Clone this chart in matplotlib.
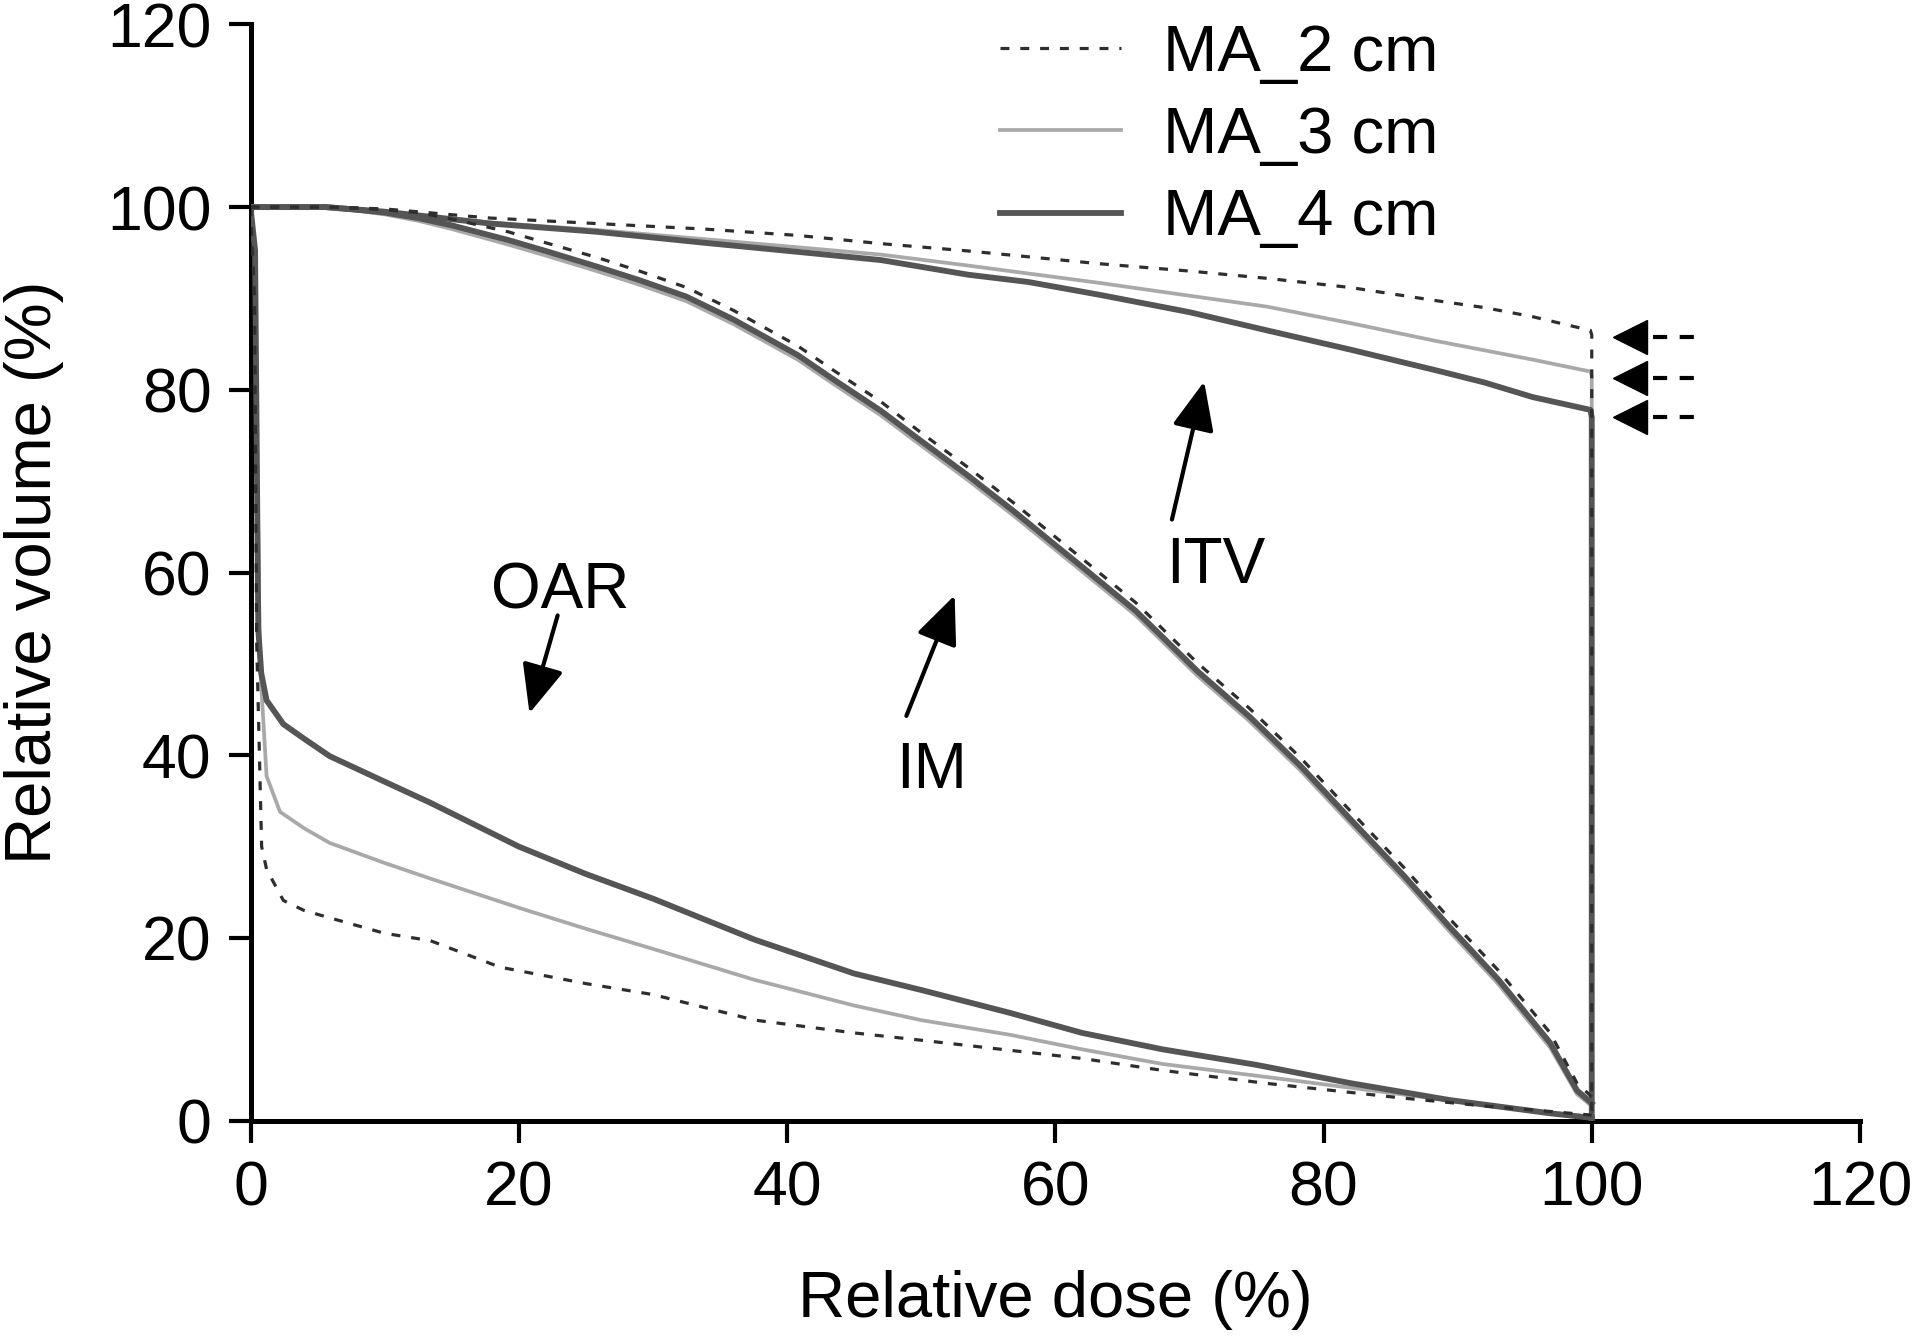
import matplotlib
matplotlib.use("Agg")
import matplotlib.pyplot as plt
from matplotlib.patches import ArrowStyle

plt.rcParams['font.family'] = ['Liberation Sans', 'DejaVu Sans']

# ---------------- data ----------------
series_labels = ["MA_2 cm", "MA_3 cm", "MA_4 cm"]

# ITV curves
itv_x_ma2 = [0, 5.6, 10, 17.9, 25.8, 33.8, 40.8, 47, 53.5, 63.3, 70, 75.8, 82, 88.2, 92, 95.6, 99.9, 100, 100]
itv_y_ma2 = [100, 100, 99.8, 98.8, 98.2, 97.6, 96.9, 96.0, 95.2, 93.8, 93.0, 92.2, 91.2, 89.8, 89.0, 88.0, 86.5, 86.0, 0]
itv_x_ma3 = [0, 5.6, 10, 17.9, 25.8, 33.8, 40.8, 47, 53.5, 63.3, 70, 75.8, 82, 88.2, 95.6, 99.9, 100, 100]
itv_y_ma3 = [100, 100, 99.5, 98.3, 97.5, 96.5, 95.6, 94.8, 93.6, 91.7, 90.3, 89.1, 87.3, 85.4, 83.3, 82.0, 81.5, 0]
itv_x_ma4 = [0, 5.6, 10, 17.9, 25.8, 33.8, 40.8, 47, 53.5, 58, 63.3, 70, 75.8, 82, 88.2, 92, 95.6, 99.9, 100, 100]
itv_y_ma4 = [100, 100, 99.5, 98.2, 97.3, 96.1, 95.1, 94.2, 92.6, 91.8, 90.4, 88.5, 86.5, 84.4, 82.2, 80.8, 79.2, 77.8, 77.0, 0]

# IM curves
im_x = [0, 3, 5.6, 8, 10, 12.5, 15, 19.2, 22, 25.8, 29, 32.5, 36, 40.8, 43.5, 47, 50, 53.5, 57, 60,
        62.1, 66, 70.6, 74.5, 78.3, 82, 86, 89.4, 93, 96.9, 98.9, 100]
im_y_ma2 = [100, 100, 100, 99.9, 99.7, 99.4, 98.7, 97.3, 96.1, 94.5, 93.0, 91.2, 88.7, 84.8, 82.1, 78.7, 75.3,
            71.5, 67.5, 63.9, 61.4, 56.7, 50.1, 45.1, 39.7, 33.9, 27.7, 22.1, 16.5, 9.6, 4.1, 2.6]
im_y_ma3 = [100, 100, 100, 99.6, 99.2, 98.5, 97.6, 95.9, 94.7, 93.0, 91.5, 89.7, 87.2, 83.3, 80.6, 77.2, 73.9,
            70.1, 66.1, 62.5, 60.0, 55.3, 48.7, 43.7, 38.3, 32.5, 26.3, 20.7, 15.0, 8.0, 2.9, 1.6]
im_y_ma4 = [100, 100, 100, 99.7, 99.4, 98.8, 98.0, 96.4, 95.2, 93.5, 92.0, 90.2, 87.7, 83.8, 81.1, 77.7, 74.4,
            70.6, 66.6, 63.0, 60.5, 55.8, 49.2, 44.2, 38.8, 33.0, 26.8, 21.2, 15.5, 8.5, 3.3, 1.9]

# OAR curves
oar_x_ma2 = [0, 0.3, 0.46, 0.83, 1.2, 2.45, 4, 5.9, 10, 13.4, 18.6, 25, 30, 37.6, 45, 50, 56.6, 62, 68, 75.6,
             85.7, 92, 96.9, 100]
oar_y_ma2 = [100, 90, 52.4, 30.0, 27.5, 24.1, 23.0, 22.2, 20.5, 19.7, 16.8, 15.0, 13.8, 11.0, 9.6, 8.8, 7.7,
             6.8, 5.5, 4.1, 2.5, 1.6, 1.0, 0.6]
oar_x_ma3 = [0, 0.3, 0.71, 1.2, 2.2, 4, 5.9, 10, 13.4, 20, 25, 30, 37.6, 45, 50, 56.6, 62, 68, 75.6, 82, 89.4,
             96.9, 100]
oar_y_ma3 = [100, 95, 49.9, 37.7, 33.8, 32.0, 30.4, 28.2, 26.5, 23.3, 21.0, 18.8, 15.4, 12.6, 11.0, 9.4, 7.8,
             6.2, 4.8, 3.6, 2.2, 0.8, 0.3]
oar_x_ma4 = [0, 0.34, 0.58, 0.8, 1.2, 2.45, 4, 5.9, 10, 13.4, 20, 25, 30, 37.6, 45, 50, 56.6, 62, 68, 75,
             82, 89.4, 96.9, 100]
oar_y_ma4 = [100, 95.3, 53.8, 49, 46.0, 43.4, 41.8, 39.9, 37.1, 34.8, 30.0, 27.0, 24.3, 19.8, 16.1, 14.3,
             11.8, 9.6, 7.8, 6.1, 4.1, 2.25, 0.8, 0.3]

# end markers of the ITV curves at 100 % dose
itv_end_marks = [85.8, 81.3, 77.0]

# annotation labels: (text, text x, text baseline y, arrow tail, arrow head)
ann_labels = ["OAR", "IM", "ITV"]
ann_text_xy = [(23.1, 56.1), (50.8, 36.4), (72.0, 58.85)]
ann_tail = [(22.9, 55.3), (48.9, 44.3), (68.7, 65.8)]
ann_head = [(20.8, 44.6), (52.5, 57.5), (71.1, 80.9)]

ticks = [0, 20, 40, 60, 80, 100, 120]

# ---------------- figure ----------------
W, H = 1916, 1336
fig = plt.figure(figsize=(W / 100, H / 100), dpi=100)
x0, x1 = 250.5, 1860.0
ytop, ybot = 24.4, 1120.6
ax = fig.add_axes([x0 / W, 1 - ybot / H, (x1 - x0) / W, (ybot - ytop) / H])

c2, c3, c4 = "#2e2e2e", "#a9a9a9", "#555555"
ls2 = (0, (2.8, 3.4))
lw2, lw3, lw4 = 2.3, 2.7, 4.2

# MA_3 (light), MA_4 (dark), MA_2 (dashed) z-order
for xs, ys in [(itv_x_ma3, itv_y_ma3), (im_x, im_y_ma3), (oar_x_ma3, oar_y_ma3)]:
    ax.plot(xs, ys, color=c3, lw=lw3, zorder=2)
for xs, ys in [(itv_x_ma4, itv_y_ma4), (im_x, im_y_ma4), (oar_x_ma4, oar_y_ma4)]:
    ax.plot(xs, ys, color=c4, lw=lw4, zorder=3)
for xs, ys in [(itv_x_ma2, itv_y_ma2), (im_x, im_y_ma2), (oar_x_ma2, oar_y_ma2)]:
    ax.plot(xs, ys, color=c2, lw=lw2, ls=ls2, zorder=4)

# legend handles
h2, = ax.plot([], [], color=c2, lw=lw2, ls=ls2)
h3, = ax.plot([], [], color=c3, lw=lw3)
h4, = ax.plot([], [], color=c4, lw=lw4)
leg = ax.legend([h2, h3, h4], series_labels, loc="upper left",
                bbox_to_anchor=(1000 / W, 1 - 24 / H), bbox_transform=fig.transFigure,
                frameon=False, fontsize=47, handlelength=1.85, handletextpad=0.65,
                labelspacing=0.34, borderpad=0, borderaxespad=0)

# ITV end markers
for yv in itv_end_marks:
    ax.plot([102.85], [yv], marker="<", markersize=24, color="black", ls="none", clip_on=False, zorder=5)
    ax.plot([104.6, 107.9], [yv, yv], color="black", lw=3, ls=(0, (3.4, 3.0)), zorder=5)

# annotations
astyle = ArrowStyle("-|>", head_length=0.3, head_width=0.13)
for lab, (tx, ty), tail, head in zip(ann_labels, ann_text_xy, ann_tail, ann_head):
    ax.text(tx, ty, lab, ha="center", va="baseline", fontsize=46)
    ax.annotate("", xy=head, xytext=tail,
                arrowprops=dict(arrowstyle=astyle, mutation_scale=100, lw=3, color="black",
                                shrinkA=0, shrinkB=0))

ax.set_xlim(0, 120)
ax.set_ylim(0, 120)
ax.set_xticks(ticks)
ax.set_yticks(ticks)
ax.spines["top"].set_visible(False)
ax.spines["right"].set_visible(False)
for s in ["left", "bottom"]:
    ax.spines[s].set_linewidth(3.6)
ax.tick_params(direction="out", length=16, width=3, labelsize=45, pad=12)

ax.set_xlabel("Relative dose (%)", fontsize=47)
ax.set_ylabel("Relative volume (%)", fontsize=47)
ax.xaxis.set_label_coords(0.5, -0.136)
ax.yaxis.set_label_coords(-0.116, 0.5)

fig.savefig("out.png", dpi=100, facecolor="white")
